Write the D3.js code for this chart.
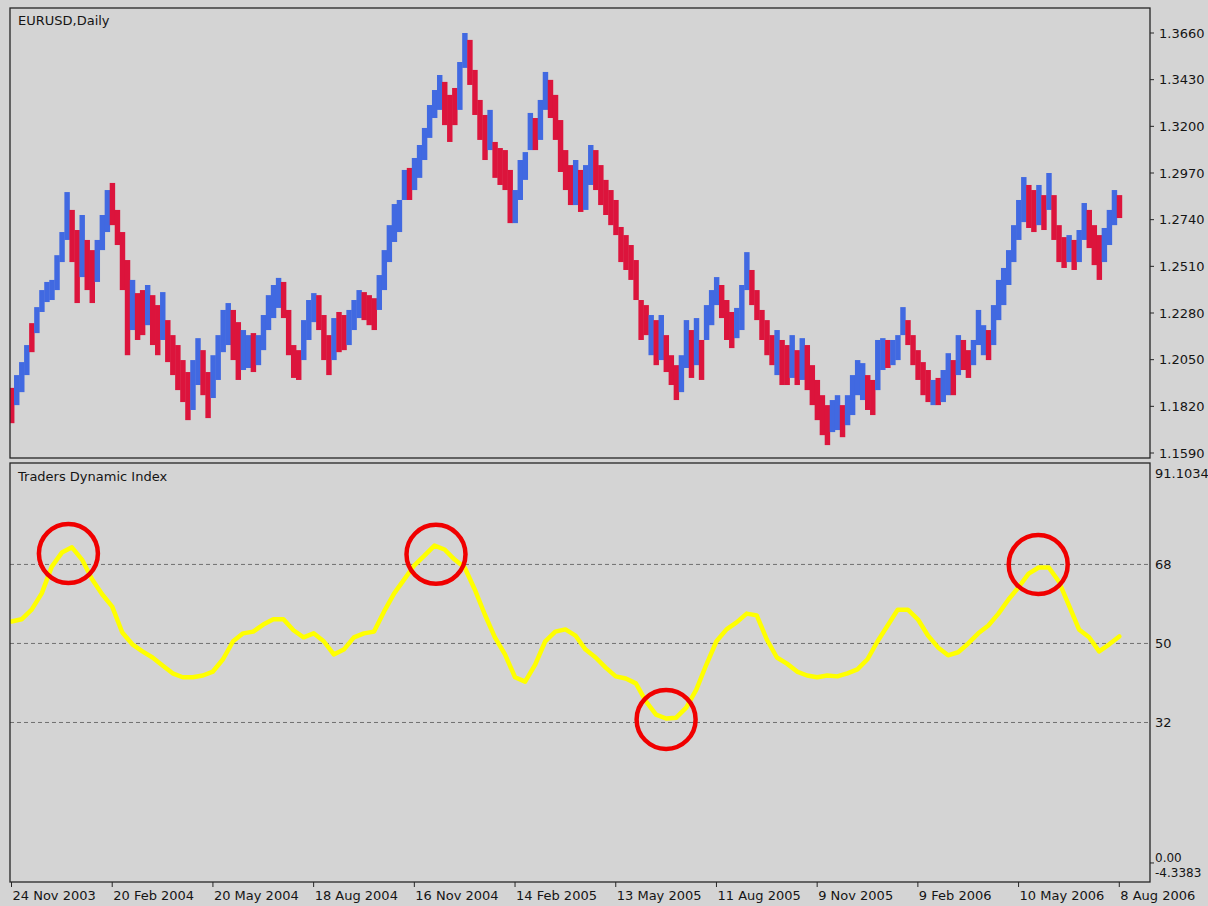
<!DOCTYPE html>
<html><head><meta charset="utf-8">
<script src="https://cdn.jsdelivr.net/npm/d3@7"></script>
<style>
html,body{margin:0;padding:0;background:#d4d4d4;}
svg{display:block;}
text{font-family:"DejaVu Sans",sans-serif;fill:#151515;}
</style>
</head><body>
<svg id="chart" width="1208" height="906"></svg>
<script>
// ---------- DATA ----------
const chartTitle = "EURUSD,Daily";
const indicatorTitle = "Traders Dynamic Index";

const dateTickBars = [0,20,40,60,80,100,120,140,160,180,200,220];
const dateTickLabels = ["24 Nov 2003","20 Feb 2004","20 May 2004","18 Aug 2004","16 Nov 2004","14 Feb 2005",
  "13 May 2005","11 Aug 2005","9 Nov 2005","9 Feb 2006","10 May 2006","8 Aug 2006"];

const priceTicks = [1.3660,1.3430,1.3200,1.2970,1.2740,1.2510,1.2280,1.2050,1.1820,1.1590];
const tdiAxisLabels = [91.1034,68,50,32,0,-4.3383];
const tdiLevels = [68,50,32];

const barHigh = [
 1.1911,1.1974,1.2038,1.2122,1.2230,1.2309,1.2393,1.2433,1.2443,1.2565,
 1.2679,1.2876,1.2788,1.2689,1.2763,1.2640,1.2590,1.2640,1.2763,1.2886,
 1.2921,1.2788,1.2679,1.2541,1.2443,1.2378,1.2393,1.2418,1.2368,1.2319,
 1.2383,1.2245,1.2171,1.2122,1.2048,1.1989,1.2048,1.2156,1.2097,1.1989,
 1.2072,1.2171,1.2295,1.2329,1.2295,1.2235,1.2196,1.2171,1.2181,1.2171,
 1.2270,1.2368,1.2418,1.2453,1.2433,1.2295,1.2122,1.2097,1.2245,1.2344,
 1.2378,1.2368,1.2270,1.2171,1.2255,1.2285,1.2270,1.2295,1.2344,1.2393,
 1.2383,1.2368,1.2353,1.2467,1.2590,1.2713,1.2817,1.2837,1.2985,1.2995,
 1.3044,1.3108,1.3192,1.3305,1.3379,1.3453,1.3419,1.3355,1.3389,1.3517,
 1.3660,1.3626,1.3478,1.3330,1.3256,1.3281,1.3123,1.3093,1.3083,1.2985,
 1.2886,1.3034,1.3073,1.3266,1.3241,1.3330,1.3468,1.3429,1.3355,1.3231,
 1.3083,1.3009,1.3034,1.2985,1.3009,1.3108,1.3083,1.3009,1.2936,1.2886,
 1.2837,1.2704,1.2664,1.2615,1.2541,1.2344,1.2319,1.2270,1.2245,1.2270,
 1.2171,1.2072,1.2023,1.2072,1.2245,1.2196,1.2255,1.2147,1.2319,1.2393,
 1.2457,1.2418,1.2344,1.2285,1.2305,1.2418,1.2580,1.2492,1.2393,1.2295,
 1.2245,1.2171,1.2196,1.2147,1.2122,1.2171,1.2097,1.2156,1.2122,1.2023,
 1.1950,1.1875,1.1826,1.1851,1.1875,1.1826,1.1875,1.1974,1.2048,1.2033,
 1.1974,1.1950,1.2147,1.2156,1.2147,1.2147,1.2171,1.2309,1.2245,1.2171,
 1.2097,1.2038,1.1999,1.1950,1.1960,1.1999,1.2082,1.2048,1.2171,1.2147,
 1.2097,1.2147,1.2295,1.2220,1.2196,1.2319,1.2443,1.2502,1.2590,1.2713,
 1.2837,1.2950,1.2911,1.2886,1.2911,1.2861,1.2970,1.2861,1.2713,1.2654,
 1.2664,1.2640,1.2689,1.2822,1.2788,1.2713,1.2664,1.2699,1.2788,1.2886,
 1.2861
];
const barLow = [
 1.1737,1.1826,1.1890,1.1974,1.2087,1.2181,1.2285,1.2334,1.2344,1.2393,
 1.2531,1.2640,1.2531,1.2329,1.2457,1.2393,1.2329,1.2433,1.2590,1.2679,
 1.2713,1.2615,1.2393,1.2072,1.2196,1.2147,1.2171,1.2220,1.2122,1.2072,
 1.2147,1.2038,1.1974,1.1900,1.1841,1.1752,1.1802,1.1925,1.1875,1.1762,
 1.1861,1.1950,1.2087,1.2122,1.2048,1.1950,1.1999,1.2009,1.1989,1.2023,
 1.2097,1.2196,1.2255,1.2305,1.2255,1.2072,1.1960,1.1950,1.2048,1.2147,
 1.2235,1.2196,1.2048,1.1974,1.2048,1.2087,1.2097,1.2122,1.2196,1.2255,
 1.2245,1.2220,1.2196,1.2295,1.2393,1.2531,1.2630,1.2679,1.2837,1.2837,
 1.2886,1.2946,1.3034,1.3143,1.3241,1.3281,1.3206,1.3123,1.3206,1.3281,
 1.3488,1.3404,1.3256,1.3133,1.3034,1.3083,1.2946,1.2911,1.2886,1.2723,
 1.2723,1.2837,1.2936,1.3083,1.3083,1.3133,1.3281,1.3241,1.3133,1.2975,
 1.2886,1.2812,1.2812,1.2778,1.2788,1.2911,1.2886,1.2812,1.2763,1.2713,
 1.2664,1.2531,1.2492,1.2443,1.2344,1.2147,1.2171,1.2072,1.2023,1.2048,
 1.1989,1.1925,1.1851,1.1890,1.2009,1.1960,1.2023,1.1950,1.2147,1.2220,
 1.2319,1.2255,1.2147,1.2107,1.2156,1.2196,1.2393,1.2319,1.2245,1.2147,
 1.2072,1.2023,1.1974,1.1925,1.1925,1.1960,1.1925,1.1950,1.1900,1.1826,
 1.1752,1.1678,1.1629,1.1693,1.1703,1.1668,1.1727,1.1777,1.1875,1.1851,
 1.1802,1.1777,1.1900,1.1999,1.2009,1.2023,1.2048,1.2171,1.2122,1.2023,
 1.1950,1.1875,1.1841,1.1826,1.1826,1.1841,1.1875,1.1875,1.1974,1.1999,
 1.1960,1.2023,1.2122,1.2072,1.2048,1.2122,1.2245,1.2319,1.2418,1.2531,
 1.2640,1.2728,1.2699,1.2679,1.2713,1.2689,1.2788,1.2640,1.2531,1.2502,
 1.2531,1.2492,1.2531,1.2640,1.2600,1.2516,1.2443,1.2531,1.2615,1.2713,
 1.2748
];
// 1 = blue (bullish), 0 = red (bearish)
const barUp = [
 0,1,1,1,0,1,1,1,1,1,
 1,1,0,0,1,0,0,1,1,1,
 0,0,0,0,1,0,0,1,0,0,
 1,0,0,0,0,0,1,1,0,0,
 1,1,1,1,0,0,1,1,0,1,
 1,1,1,1,0,0,0,0,1,1,
 1,0,0,0,1,0,0,1,1,1,
 0,0,0,1,1,1,1,1,1,0,
 1,1,1,1,1,1,0,0,0,1,
 1,0,0,0,0,1,0,0,0,0,
 1,1,1,1,0,1,1,0,0,0,
 0,0,1,0,1,1,0,0,0,0,
 0,0,0,0,0,0,0,1,0,1,
 0,0,0,1,1,0,1,0,1,1,
 1,0,0,0,1,1,1,0,0,0,
 0,0,1,0,0,1,0,1,0,0,
 0,0,0,1,1,0,1,1,1,1,
 0,0,1,1,0,1,1,1,0,0,
 0,0,0,1,0,1,1,0,1,0,
 0,1,1,1,0,1,1,1,1,1,
 1,1,0,0,1,0,1,0,0,0,
 1,0,1,1,0,0,0,1,1,1,
 0
];

// TDI line, one value every second bar
const tdiValues = [
 55.0,55.5,57.7,61.4,67.5,70.7,71.9,69.1,64.6,61.2,
 58.4,52.5,49.8,48.2,46.8,45.0,43.2,42.3,42.3,42.7,
 43.6,46.4,50.5,52.3,52.7,54.3,55.5,55.5,53.0,51.4,
 52.3,50.5,47.5,48.6,51.4,52.3,52.7,57.3,61.4,64.6,
 67.8,70.0,72.3,71.4,69.1,67.3,62.3,56.6,51.4,47.5,
 42.3,41.3,45.2,50.5,52.7,53.2,51.8,48.6,46.8,44.5,
 42.5,42.0,40.9,36.8,33.8,32.9,33.1,35.4,39.5,45.2,
 50.5,53.2,54.8,56.8,56.4,50.9,46.8,45.4,43.6,42.7,
 42.3,42.7,42.5,43.2,44.1,46.4,50.5,54.1,57.7,57.7,
 55.5,51.8,49.1,47.3,48.0,50.0,52.3,54.1,56.8,60.0,
 62.8,65.9,67.3,67.3,64.1,58.7,53.2,51.4,48.2,49.8,
 51.6
];

// highlighted extremes (annotation circles)
const circleBars = [11.3, 84.3, 130.0, 203.9];
const circleValues = [70.5, 70.3, 32.7, 68.0];

// ---------- LAYOUT ----------
const W = 1208, H = 906;
const L = 10, R = 1150;
const pTop = 8, pBot = 458, iTop = 463, iBot = 882;

const svg = d3.select("#chart");
svg.append("rect").attr("width", W).attr("height", H).attr("fill", "#d4d4d4");

const x = d3.scaleLinear().domain([-0.3, 226.1]).range([L, R]);
const yP = d3.scaleLinear().domain([1.1590, 1.3660]).range([453, 33]);
const yI = d3.scaleLinear().domain([-4.3383, 91.1034]).range([iBot, iTop]);

const defs = svg.append("defs");
defs.append("clipPath").attr("id", "clipP").append("rect")
  .attr("x", L).attr("y", pTop).attr("width", R - L).attr("height", pBot - pTop);
defs.append("clipPath").attr("id", "clipI").append("rect")
  .attr("x", L).attr("y", iTop).attr("width", R - L).attr("height", iBot - iTop);

// ---------- PRICE PANEL ----------
const bars = barHigh.map((h, i) => ({ i, h, l: barLow[i], up: barUp[i] }));
const bw = x(1) - x(0);
svg.append("g").attr("clip-path", "url(#clipP)")
  .selectAll("rect").data(bars).join("rect")
  .attr("x", d => x(d.i) - bw / 2)
  .attr("width", bw + 0.4)
  .attr("y", d => yP(d.h))
  .attr("height", d => Math.max(1, yP(d.l) - yP(d.h)))
  .attr("fill", d => d.up ? "#4169e1" : "#dc143c");

svg.append("rect").attr("x", L).attr("y", pTop).attr("width", R - L).attr("height", pBot - pTop)
  .attr("fill", "none").attr("stroke", "#262626").attr("stroke-width", 1.3);

svg.append("text").attr("x", L + 8).attr("y", pTop + 17).attr("font-size", 13).text(chartTitle);

const pAxis = svg.append("g");
priceTicks.forEach(v => {
  pAxis.append("line").attr("x1", R).attr("x2", R + 4).attr("y1", yP(v)).attr("y2", yP(v))
    .attr("stroke", "#262626");
  pAxis.append("text").attr("x", R + 9).attr("y", yP(v)).attr("dy", "0.36em")
    .attr("font-size", 13).text(v.toFixed(4));
});

// ---------- INDICATOR PANEL ----------
const ig = svg.append("g").attr("clip-path", "url(#clipI)");
tdiLevels.forEach(v => {
  ig.append("line").attr("x1", L).attr("x2", R).attr("y1", yI(v)).attr("y2", yI(v))
    .attr("stroke", "#707070").attr("stroke-width", 1).attr("stroke-dasharray", "4,3");
});

const tdi = tdiValues.map((v, k) => ({ b: k * 2, v }));
ig.append("path").datum(tdi)
  .attr("d", d3.line().x(d => x(d.b)).y(d => yI(d.v)))
  .attr("fill", "none").attr("stroke", "#ffff00").attr("stroke-width", 4.5)
  .attr("stroke-linejoin", "round").attr("stroke-linecap", "round");

ig.selectAll("circle.mark").data(circleBars.map((b, i) => ({ b, v: circleValues[i] })))
  .join("circle").attr("class", "mark")
  .attr("cx", d => x(d.b)).attr("cy", d => yI(d.v)).attr("r", 29.5)
  .attr("fill", "none").attr("stroke", "#f00000").attr("stroke-width", 4.5);

svg.append("rect").attr("x", L).attr("y", iTop).attr("width", R - L).attr("height", iBot - iTop)
  .attr("fill", "none").attr("stroke", "#262626").attr("stroke-width", 1.3);

svg.append("text").attr("x", L + 8).attr("y", iTop + 18).attr("font-size", 13).text(indicatorTitle);

const iAxis = svg.append("g");
tdiAxisLabels.forEach(v => {
  const yy = yI(v);
  let ly = Math.min(Math.max(yy, iTop + 10), iBot - 9);
  let fs = 13;
  if (v === 0) { ly = yy - 5; fs = 12; }
  if (v < 0) { fs = 12; }
  if (v === 0) {
    iAxis.append("line").attr("x1", R).attr("x2", R + 4).attr("y1", yy).attr("y2", yy).attr("stroke", "#262626");
  }
  const txt = (v === 0) ? "0.00" : (Number.isInteger(v) ? String(v) : v.toFixed(4));
  iAxis.append("text").attr("x", R + 5).attr("y", ly).attr("dy", "0.36em")
    .attr("font-size", fs).text(txt);
});

// ---------- DATE AXIS ----------
const xAxis = svg.append("g");
dateTickBars.forEach((b, i) => {
  xAxis.append("line").attr("x1", x(b)).attr("x2", x(b)).attr("y1", iBot).attr("y2", iBot + 5)
    .attr("stroke", "#262626");
  xAxis.append("text").attr("x", x(b) + 1).attr("y", iBot + 18)
    .attr("font-size", 13).text(dateTickLabels[i]);
});
</script>
</body></html>
